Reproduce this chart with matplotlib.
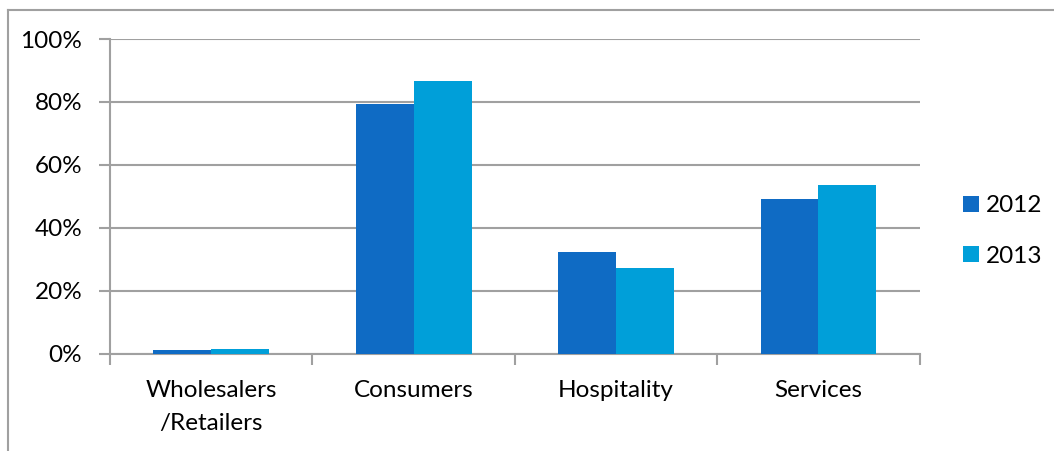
import matplotlib.pyplot as plt
import numpy as np
from matplotlib.lines import Line2D
from matplotlib.ticker import PercentFormatter

plt.rcParams['font.family'] = ['Lato', 'DejaVu Sans']

# survey shares by customer segment
categories = ['Wholesalers\n/Retailers', 'Consumers', 'Hospitality', 'Services']
share_2012 = [1.3, 79.4, 32.2, 49.0]
share_2013 = [1.6, 86.7, 27.3, 53.7]
years = ['2012', '2013']

c2012 = '#0F6BC4'
c2013 = '#009FD9'
grid_c = '#A0A0A0'

fig = plt.figure(figsize=(10.54, 4.51), dpi=100)
ax = fig.add_axes([110 / 1054, 1 - 353.7 / 451, (919.7 - 110) / 1054, (353.7 - 39) / 451])

x = np.arange(len(categories))
w = 0.286
ax.bar(x - w / 2, share_2012, w, color=c2012, label=years[0], zorder=3)
ax.bar(x + w / 2, share_2013, w, color=c2013, label=years[1], zorder=3)

ax.set_xlim(-0.5, len(categories) - 0.5)
ax.set_ylim(0, 100)
ax.set_yticks(np.arange(0, 101, 20))
ax.yaxis.set_major_formatter(PercentFormatter(decimals=0))
ax.grid(axis='y', color=grid_c, linewidth=1.5, zorder=0)

# category labels centred, ticks on the boundaries
ax.set_xticks(x)
ax.set_xticklabels(categories, linespacing=1.7)
ax.set_xticks(np.arange(-0.5, len(categories), 1), minor=True)
ax.tick_params(axis='x', which='major', length=0, pad=19, labelsize=17.5)
ax.tick_params(axis='x', which='minor', length=8, width=1.5, color=grid_c)
ax.tick_params(axis='y', length=8, width=1.5, color=grid_c, labelsize=17.5, pad=12)

for s in ['top', 'right']:
    ax.spines[s].set_visible(False)
for s in ['left', 'bottom']:
    ax.spines[s].set_color(grid_c)
    ax.spines[s].set_linewidth(1.5)

leg = fig.legend(loc='center left', bbox_to_anchor=(941 / 1054, 1 - 231 / 451),
                 frameon=False, fontsize=17.5, handlelength=0.65, handleheight=0.65,
                 handletextpad=0.3, labelspacing=1.2)

# chart frame (runs off the right and bottom edges)
fig.add_artist(Line2D([8 / 1054, 1], [1 - 9.5 / 451] * 2, color=grid_c, linewidth=1.5))
fig.add_artist(Line2D([8 / 1054] * 2, [0, 1 - 9.5 / 451], color=grid_c, linewidth=1.5))

fig.savefig('out.png', dpi=100)
